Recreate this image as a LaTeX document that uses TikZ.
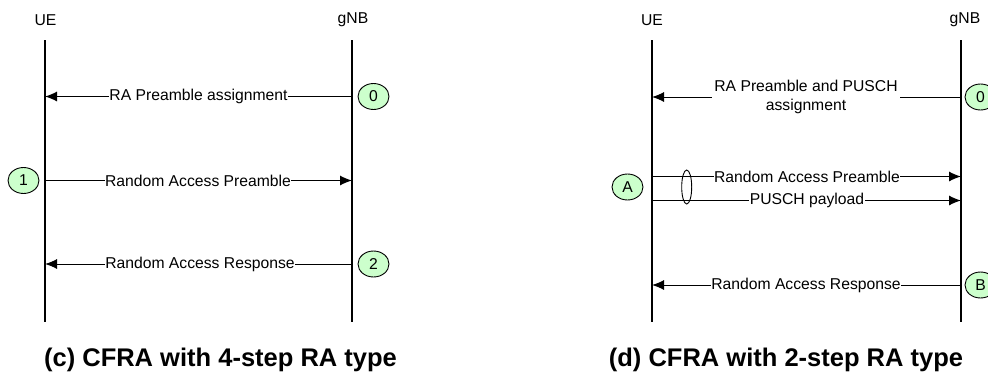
\documentclass[tikz,border=0pt]{standalone}
\usepackage{fontspec}
\setmainfont{Liberation Sans}
\usetikzlibrary{arrows.meta,shapes.geometric}
\definecolor{stepgreen}{RGB}{204,255,204}
\tikzset{
  lifeline/.style={line width=1.1pt},
  msg/.style={line width=1pt,-{Latex[length=12pt,width=10pt]}},
  lbl/.style={fill=white,inner sep=0.5pt,font=\fontsize{15.7}{19.5}\selectfont,align=center},
  head/.style={inner sep=0pt,font=\fontsize{15.7}{19}\selectfont},
  stepmark/.style={ellipse,draw,line width=0.9pt,fill=stepgreen,minimum width=31pt,minimum height=26pt,inner sep=0pt,font=\fontsize{15.7}{19}\selectfont},
  capt/.style={inner sep=0pt,font=\fontsize{25.5}{30}\selectfont\bfseries}
}
\begin{document}
\begin{tikzpicture}[x=1pt,y=-1pt]
\useasboundingbox (0,0) rectangle (988,381);
% ---- left panel (c)
\node[head] (ue1) at (45.5,20) {UE};
\node[head] (gnb1) at (353,20) {gNB};
\coordinate (ue1t) at (45,40); \coordinate (ue1b) at (45,322);
\coordinate (gn1t) at (352,40); \coordinate (gn1b) at (352,322);
\draw[lifeline] (ue1t) -- (ue1b);
\draw[lifeline] (gn1t) -- (gn1b);
\coordinate (c0s) at (352,96.5); \coordinate (c0e) at (45,96.5);
\draw[msg] (c0s) -- (c0e);
\node[lbl] (c0t) at (198.5,96.5) {RA Preamble assignment};
\node[stepmark] (c0m) at (373.5,96.5) {0};
\coordinate (c1s) at (45,180.5); \coordinate (c1e) at (352,180.5);
\draw[msg] (c1s) -- (c1e);
\node[lbl] (c1t) at (198,180.5) {Random Access Preamble};
\node[stepmark] (c1m) at (23.5,180.5) {1};
\coordinate (c2s) at (352,264); \coordinate (c2e) at (45,264);
\draw[msg] (c2s) -- (c2e);
\node[lbl] (c2t) at (200,264) {Random Access Response};
\node[stepmark] (c2m) at (373.5,264) {2};
\node[capt] (capc) at (220.5,360) {(c) CFRA with 4-step RA type};
% ---- right panel (d)
\node[head] (ue2) at (652,20) {UE};
\node[head] (gnb2) at (965,20) {gNB};
\coordinate (ue2t) at (652,40); \coordinate (ue2b) at (652,322);
\coordinate (gn2t) at (961,40); \coordinate (gn2b) at (961,322);
\draw[lifeline] (ue2t) -- (ue2b);
\draw[lifeline] (gn2t) -- (gn2b);
\coordinate (d0s) at (961,97); \coordinate (d0e) at (652,97);
\draw[msg] (d0s) -- (d0e);
\node[lbl,inner xsep=2pt] (d0t) at (806,97) {RA Preamble and PUSCH\\assignment};
\node[stepmark] (d0m) at (980.5,97) {0};
\coordinate (d1s) at (652,176.5); \coordinate (d1e) at (961,176.5);
\draw[msg] (d1s) -- (d1e);
\node[lbl] (d1t) at (807,176.5) {Random Access Preamble};
\coordinate (d2s) at (652,200.5); \coordinate (d2e) at (961,200.5);
\draw[msg] (d2s) -- (d2e);
\node[lbl] (d2t) at (807,200.5) {PUSCH payload};
\node[ellipse,draw,line width=0.9pt,minimum width=10pt,minimum height=34pt,inner sep=0pt] (grp) at (686.7,187) {};
\node[stepmark] (dA) at (627.5,187) {A};
\coordinate (d3s) at (961,285); \coordinate (d3e) at (652,285);
\draw[msg] (d3s) -- (d3e);
\node[lbl] (d3t) at (806,285) {Random Access Response};
\node[stepmark] (dB) at (980.5,285) {B};
\node[capt] (capd) at (786,360) {(d) CFRA with 2-step RA type};
\end{tikzpicture}
\end{document}
